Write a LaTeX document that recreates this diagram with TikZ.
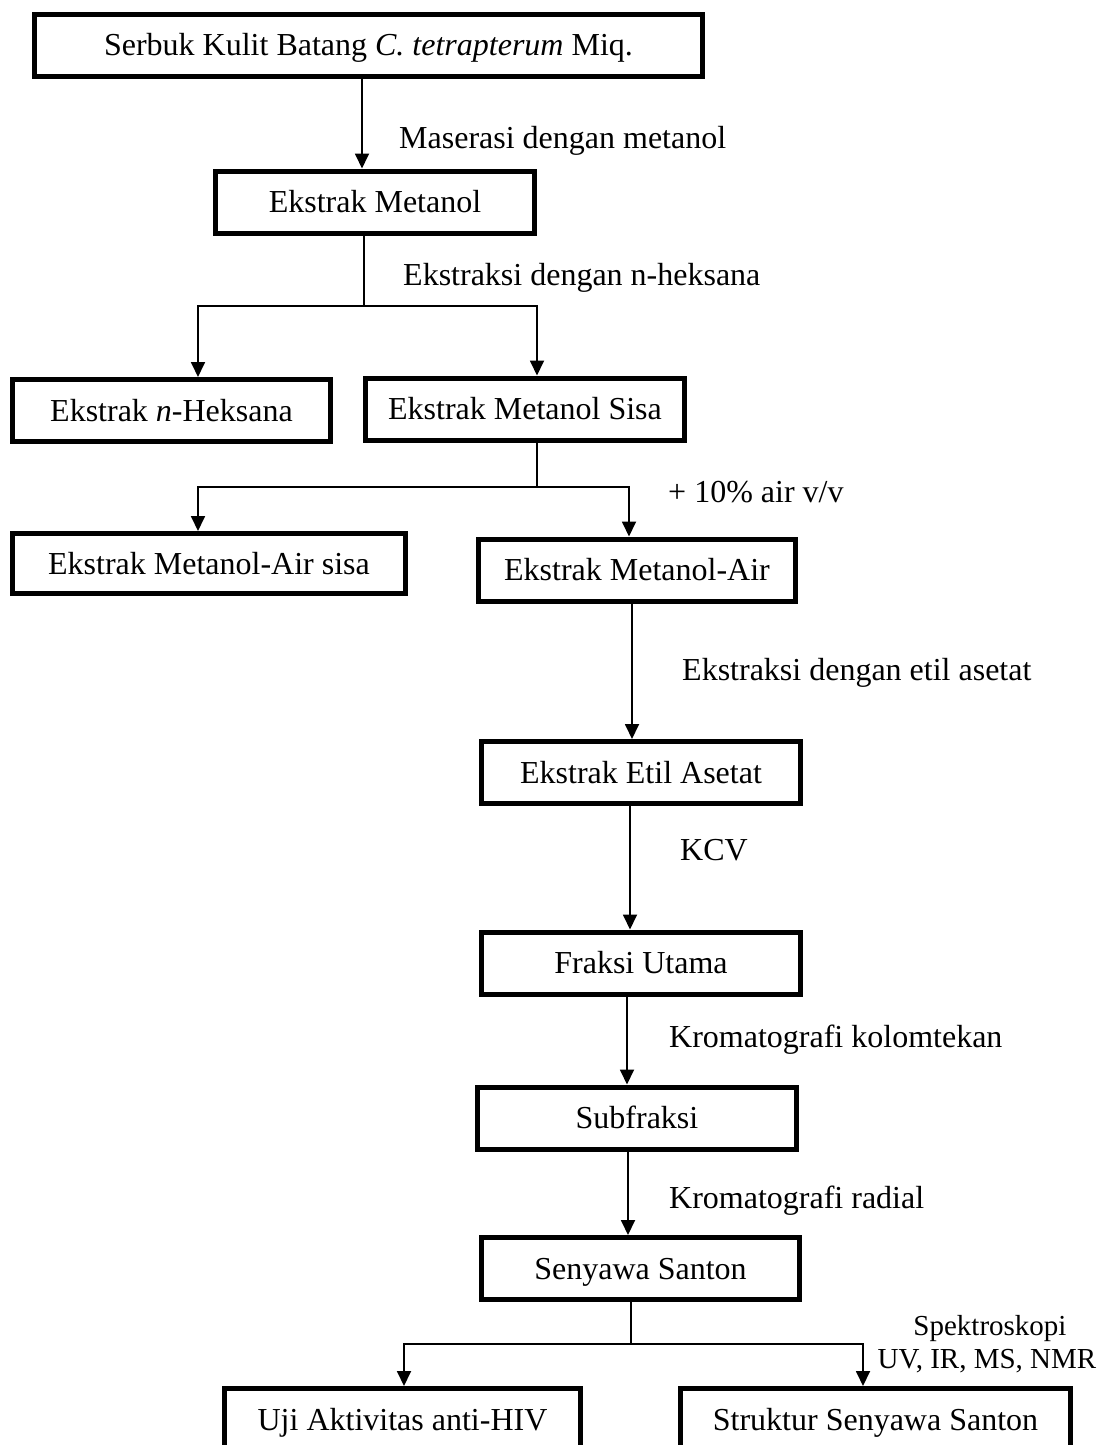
\documentclass[tikz,border=0pt]{standalone}
\usepackage{fontspec}
\setmainfont{Liberation Serif}
\usetikzlibrary{arrows.meta}

\begin{document}
\begin{tikzpicture}[x=1pt,y=-1pt,
  box/.style={draw,line width=5pt,minimum width=319pt,minimum height=62pt,inner sep=0pt,
    text height=25pt,text depth=4pt,font=\fontsize{32}{38}\selectfont},
  lbl/.style={anchor=base west,inner sep=0pt,font=\fontsize{32}{38}\selectfont},
  smalllbl/.style={anchor=base,inner sep=0pt,font=\fontsize{29}{33}\selectfont},
  arr/.style={line width=1.8pt,-{Triangle[length=15pt,width=14pt]}},
  ln/.style={line width=1.2pt}]
\useasboundingbox (0,0) rectangle (1105,1445);
\node [box,minimum width=668pt] (serbuk) at (368.5,45.5) {Serbuk Kulit Batang \textit{C. tetrapterum} Miq.};
\node [box] (metanol) at (375,202) {Ekstrak Metanol};
\node [box,minimum width=318pt] (heksana) at (171.5,410.5) {Ekstrak \textit{n}-Heksana};
\node [box] (sisa) at (525,409) {Ekstrak Metanol Sisa};
\node [box,minimum width=393pt,minimum height=60pt] (airsisa) at (209,563.5) {Ekstrak Metanol-Air sisa};
\node [box,minimum width=317pt] (air) at (637,570) {Ekstrak Metanol-Air};
\node [box] (etil) at (641,772.5) {Ekstrak Etil Asetat};
\node [box] (utama) at (641,963) {Fraksi Utama};
\node [box] (sub) at (637,1118) {Subfraksi};
\node [box,minimum width=318pt] (santon) at (640.5,1268.5) {Senyawa Santon};
\node [box,minimum width=356pt] (uji) at (402.5,1419.5) {Uji Aktivitas anti-HIV};
\node [box,minimum width=390pt] (struktur) at (875.5,1419.5) {Struktur Senyawa Santon};

\node [lbl] (maserasi) at (399,148) {Maserasi dengan metanol};
\node [lbl] (ekstraksiheks) at (403,285) {Ekstraksi dengan n-heksana};
\node [lbl] (tambahair) at (668,502) {+ 10\% air v/v};
\node [lbl] (ekstraksietil) at (682,680) {Ekstraksi dengan etil asetat};
\node [lbl] (kcv) at (680,860) {KCV};
\node [lbl] (kolom) at (669,1047) {Kromatografi kolomtekan};
\node [lbl] (radial) at (669,1208) {Kromatografi radial};
\node [smalllbl] (spektro) at (990,1335) {Spektroskopi};
\node [smalllbl] (metode) at (987,1368) {UV, IR, MS, NMR};

\coordinate (s1) at (364,306);
\coordinate (s2) at (537,487);
\coordinate (s3) at (631,1344);

\draw [arr] ([xshift=-6.5pt]serbuk.south) -- ([xshift=-13pt]metanol.north);
\draw [ln] ([xshift=-11pt]metanol.south) -- (s1);
\draw [arr] (s1) -| ([xshift=26.5pt]heksana.north);
\draw [arr] (s1) -| ([xshift=12pt]sisa.north);
\draw [ln] ([xshift=12pt]sisa.south) -- (s2);
\draw [arr] (s2) -| ([xshift=-11pt]airsisa.north);
\draw [arr] (s2) -| ([xshift=-8pt]air.north);
\draw [arr] ([xshift=-5pt]air.south) -- ([xshift=-9pt]etil.north);
\draw [arr] ([xshift=-11pt]etil.south) -- ([xshift=-11pt]utama.north);
\draw [arr] ([xshift=-14pt]utama.south) -- ([xshift=-10pt]sub.north);
\draw [arr] ([xshift=-9pt]sub.south) -- ([xshift=-12.5pt]santon.north);
\draw [ln] ([xshift=-9.5pt]santon.south) -- (s3);
\draw [arr] (s3) -| ([xshift=1.5pt]uji.north);
\draw [arr] (s3) -| ([xshift=-12.5pt]struktur.north);
\end{tikzpicture}
\end{document}
